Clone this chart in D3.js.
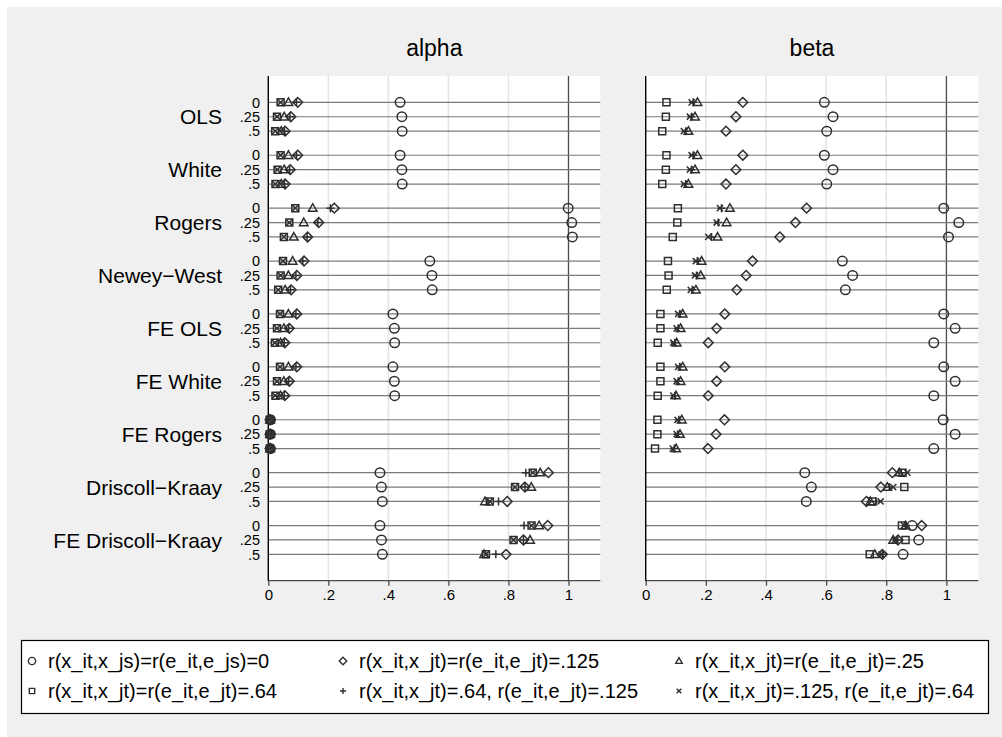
<!DOCTYPE html>
<html><head><meta charset="utf-8">
<script src="https://cdn.jsdelivr.net/npm/d3@7"></script>
<style>body{margin:0;background:#fff} svg{display:block} text{font-family:"Liberation Sans",Arial,Helvetica,sans-serif;fill:#000}</style>
</head><body><svg id="c" width="1002" height="737"></svg>
<script>
const groups = ["OLS","White","Rogers","Newey\u2212West","FE OLS","FE White","FE Rogers","Driscoll\u2212Kraay","FE Driscoll\u2212Kraay"];
const levels = ["0",".25",".5"];
const panels = ["alpha","beta"];
const xTicks = [0,0.2,0.4,0.6,0.8,1];
const xTickLabels = ["0",".2",".4",".6",".8","1"];
const seriesLabels = [
  "r(x_it,x_js)=r(e_it,e_js)=0",
  "r(x_it,x_jt)=r(e_it,e_jt)=.125",
  "r(x_it,x_jt)=r(e_it,e_jt)=.25",
  "r(x_it,x_jt)=r(e_it,e_jt)=.64",
  "r(x_it,x_jt)=.64, r(e_it,e_jt)=.125",
  "r(x_it,x_jt)=.125, r(e_it,e_jt)=.64"
];
const seriesShapes = ["circle","diamond","triangle","square","plus","cross"];

// values listed group by group, levels 0, .25, .5
const alphaCircle   = [.439,.445,.446, .439,.445,.446, .999,1.011,1.013, .538,.545,.546, .415,.420,.421, .415,.420,.421, .007,.007,.007, .372,.377,.380, .372,.377,.380];
const alphaDiamond  = [.098,.075,.056, .098,.073,.056, .220,.168,.131, .119,.095,.076, .095,.070,.055, .095,.070,.055, .006,.006,.006, .933,.855,.796, .931,.850,.792];
const alphaTriangle = [.067,.053,.043, .067,.053,.043, .148,.118,.085, .081,.067,.056, .067,.052,.041, .067,.052,.041, .006,.006,.006, .906,.876,.722, .902,.872,.719];
const alphaSquare   = [.041,.029,.023, .041,.031,.024, .090,.070,.052, .049,.041,.033, .039,.029,.022, .039,.029,.024, .005,.005,.005, .881,.822,.738, .877,.817,.725];
const alphaPlus     = [.094,.072,.054, .094,.071,.054, .207,.165,.129, .115,.092,.074, .092,.068,.053, .092,.068,.053, .006,.006,.006, .858,.855,.767, .852,.850,.758];
const alphaCross    = [.041,.029,.023, .041,.030,.023, .090,.070,.052, .049,.041,.033, .039,.029,.022, .039,.029,.023, .005,.005,.005, .881,.822,.738, .877,.817,.725];

const betaCircle   = [.594,.623,.602, .594,.623,.602, .991,1.041,1.007, .654,.688,.664, .991,1.029,.958, .991,1.029,.958, .989,1.029,.958, .529,.551,.534, .886,.908,.856];
const betaDiamond  = [.323,.300,.267, .323,.300,.267, .535,.498,.446, .355,.334,.303, .263,.236,.208, .263,.236,.208, .262,.234,.207, .820,.782,.734, .918,.839,.787];
const betaTriangle = [.172,.164,.142, .172,.164,.142, .280,.269,.239, .186,.183,.167, .123,.116,.103, .123,.116,.101, .120,.114,.101, .843,.803,.747, .864,.823,.762];
const betaSquare   = [.069,.067,.055, .069,.067,.055, .107,.105,.090, .074,.076,.070, .049,.049,.040, .049,.049,.040, .039,.039,.031, .854,.860,.754, .852,.864,.745];
const betaPlus     = [.158,.152,.133, .158,.152,.133, .252,.241,.219, .172,.169,.155, .113,.108,.097, .113,.108,.097, .110,.106,.095, .850,.810,.765, .866,.838,.787];
const betaCross    = [.153,.147,.127, .153,.147,.127, .247,.236,.208, .167,.164,.150, .108,.103,.092, .108,.103,.092, .106,.103,.090, .870,.823,.781, .859,.829,.785];

const panelSeries = {
  alpha: [alphaCircle, alphaDiamond, alphaTriangle, alphaSquare, alphaPlus, alphaCross],
  beta:  [betaCircle, betaDiamond, betaTriangle, betaSquare, betaPlus, betaCross]
};

const svg = d3.select("#c");
const W = 1002, H = 737;
svg.append("rect").attr("width", W).attr("height", H).attr("fill", "#fff");
svg.append("rect").attr("x", 7).attr("y", 7).attr("width", W - 7).attr("height", H - 7).attr("fill", "#f0f0f0");

const plotTop = 76, plotBottom = 580.7;
const panelX = { alpha: [268.3, 600.3], beta: [645.7, 978.3] };
const xMax = 1.106;
const markColor = "#2e2e2e";

const yGroup = d3.scaleBand().domain(groups).range([plotTop, plotBottom]).paddingInner(0).paddingOuter(0.27);
const yLevel = d3.scalePoint().domain(levels).range([0, yGroup.bandwidth()]).padding(0.837);
const yPos = (g, l) => yGroup(g) + yLevel(l);

function symbolPath(shape, s) {
  const p = d3.path();
  if (shape === "circle") { p.arc(0, 0, s * 0.95, 0, 2 * Math.PI); }
  else if (shape === "diamond") { const r = s * 0.98; p.moveTo(0, -r); p.lineTo(r, 0); p.lineTo(0, r); p.lineTo(-r, 0); p.closePath(); }
  else if (shape === "triangle") { const r = s * 0.88; p.moveTo(0, -r); p.lineTo(r * 0.97, r * 0.72); p.lineTo(-r * 0.97, r * 0.72); p.closePath(); }
  else if (shape === "square") { const r = s * 0.7; p.rect(-r, -r, 2 * r, 2 * r); }
  else if (shape === "plus") { const r = s * 0.8; p.moveTo(-r, 0); p.lineTo(r, 0); p.moveTo(0, -r); p.lineTo(0, r); }
  else if (shape === "cross") { const r = s * 0.62; p.moveTo(-r, -r); p.lineTo(r, r); p.moveTo(-r, r); p.lineTo(r, -r); }
  return p.toString();
}

panels.forEach(panel => {
  const [x0, x1] = panelX[panel];
  const x = d3.scaleLinear().domain([0, xMax]).range([x0, x1]);
  const g = svg.append("g");
  g.append("rect").attr("x", x0).attr("y", plotTop).attr("width", x1 - x0).attr("height", plotBottom - plotTop).attr("fill", "#fff");
  g.selectAll(".grid").data(xTicks.filter(t => t > 0 && t < 1)).enter().append("line")
    .attr("x1", d => x(d)).attr("x2", d => x(d)).attr("y1", plotTop).attr("y2", plotBottom)
    .attr("stroke", "#e4e4e4").attr("stroke-width", 1.5);
  g.append("line").attr("x1", x(1)).attr("x2", x(1)).attr("y1", plotTop).attr("y2", plotBottom)
    .attr("stroke", "#4a4a4a").attr("stroke-width", 1.3);
  const rows = [];
  groups.forEach(gr => levels.forEach(l => rows.push([gr, l])));
  g.selectAll(".row").data(rows).enter().append("line")
    .attr("x1", x0).attr("x2", x1).attr("y1", d => yPos(d[0], d[1])).attr("y2", d => yPos(d[0], d[1]))
    .attr("stroke", "#7a7a7a").attr("stroke-width", 1.2);
  const ax = g.append("g").attr("transform", `translate(0,${plotBottom})`)
    .call(d3.axisBottom(x).tickValues(xTicks).tickFormat((d, i) => xTickLabels[i]).tickSize(5).tickPadding(4));
  ax.select(".domain").attr("stroke", "#4a4a4a").attr("stroke-width", 1.3).attr("d", `M${x0},0H${x1}`);
  ax.selectAll(".tick line").attr("stroke", "#4a4a4a").attr("stroke-width", 1.3);
  ax.selectAll(".tick text").attr("font-size", 15).attr("font-family", '"Liberation Sans",Arial,sans-serif').attr("fill", "#000");
  g.append("line").attr("x1", x0).attr("x2", x0).attr("y1", plotTop).attr("y2", plotBottom)
    .attr("stroke", "#000").attr("stroke-width", 1.4);
  g.append("text").attr("x", (x0 + x1) / 2).attr("y", 56).attr("text-anchor", "middle")
    .attr("font-size", 23).text(panel);
  panelSeries[panel].forEach((vals, si) => {
    const pts = vals.map((v, i) => ({ v, g: groups[Math.floor(i / 3)], l: levels[i % 3] }));
    g.selectAll(null).data(pts).enter().append("path")
      .attr("d", symbolPath(seriesShapes[si], 5))
      .attr("transform", d => `translate(${x(d.v)},${yPos(d.g, d.l)})`)
      .attr("fill", "none").attr("stroke", markColor).attr("stroke-width", 1.5);
  });
});

groups.forEach(gr => {
  svg.append("text").attr("x", 222).attr("y", yPos(gr, levels[1])).attr("dy", "0.36em")
    .attr("text-anchor", "end").attr("font-size", 21).text(gr);
  levels.forEach(l => {
    svg.append("text").attr("x", 260).attr("y", yPos(gr, l)).attr("dy", "0.36em")
      .attr("text-anchor", "end").attr("font-size", 14.5).text(l);
  });
});

const lg = svg.append("g");
lg.append("rect").attr("x", 21.5).attr("y", 640.5).attr("width", 967).attr("height", 73)
  .attr("fill", "#fff").attr("stroke", "#000").attr("stroke-width", 1.2);
const colX = [32, 343, 679];
const rowY = [661, 691];
seriesLabels.forEach((lab, i) => {
  const cx = colX[i % 3], cy = rowY[Math.floor(i / 3)];
  lg.append("path").attr("d", symbolPath(seriesShapes[i], 3.8))
    .attr("transform", `translate(${cx},${cy})`).attr("fill", "none").attr("stroke", markColor).attr("stroke-width", 1.4);
  lg.append("text").attr("x", cx + 16).attr("y", cy).attr("dy", "0.36em").attr("font-size", 20).text(lab);
});
</script></body></html>
